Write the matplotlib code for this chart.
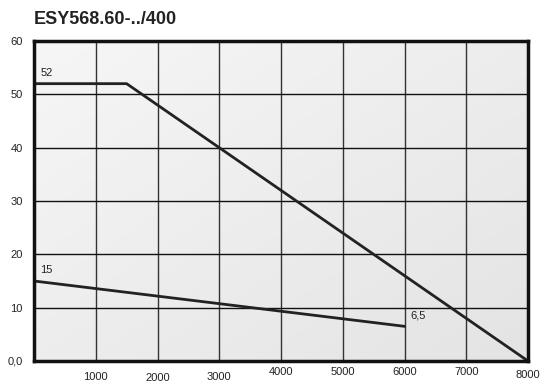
import matplotlib
matplotlib.use('Agg')
import matplotlib.pyplot as plt
import matplotlib.transforms as mtransforms
from matplotlib.colors import LinearSegmentedColormap
import numpy as np

plt.rcParams['font.family'] = ['Liberation Sans', 'DejaVu Sans']

# curves
upper_x = [0, 1500, 8000]
upper_y = [52, 52, 0]
lower_x = [0, 6000]
lower_y = [15, 6.5]

x_ticks = [1000, 2000, 3000, 4000, 5000, 6000, 7000, 8000]
x_labels = ['1000', '2000', '3000', '4000', '5000', '6000', '7000', '8000']
x_label_drop = [16, 17, 16, 11, 11, 11, 11, 14]  # pixels below axis
y_ticks = [0, 10, 20, 30, 40, 50, 60]
y_labels = ['0,0', '10', '20', '30', '40', '50', '60']

fig = plt.figure(figsize=(5.4, 3.82), dpi=100)
ax = fig.add_axes([34 / 540, 21 / 382, 494 / 540, 320 / 382])

# light gray gradient background
bg = LinearSegmentedColormap.from_list('bg', ['#f6f6f6', '#e4e4e4'])
gx, gy = np.meshgrid(np.linspace(0, 1, 64), np.linspace(0, 1, 64))
ax.imshow((gx + (1 - gy)) / 2, extent=[0, 8000, 0, 60], aspect='auto', cmap=bg,
          zorder=0, origin='lower')

ax.set_xlim(0, 8000)
ax.set_ylim(0, 60)

for x in range(1000, 8000, 1000):
    ax.axvline(x, color='#333333', lw=1.0, zorder=1)
for y in range(10, 60, 10):
    ax.axhline(y, color='#111111', lw=1.0, zorder=1)

ax.plot(upper_x, upper_y, color='#222222', lw=2.0, zorder=3)
ax.plot(lower_x, lower_y, color='#222222', lw=2.0, zorder=3)

ax.text(100, 54.0, '52', fontsize=8, color='#222222', va='center')
ax.text(100, 17.0, '15', fontsize=8, color='#222222', va='center')
ax.text(6090, 8.5, '6,5', fontsize=8, color='#222222', va='center')

ax.set_yticks(y_ticks)
ax.set_yticklabels(y_labels, fontsize=8, color='#222222')
ax.set_xticks([])
ax.tick_params(axis='y', length=0, pad=8)

trans = mtransforms.blended_transform_factory(ax.transData, ax.transAxes)
for xv, lab, drop in zip(x_ticks, x_labels, x_label_drop):
    off = mtransforms.ScaledTranslation(0, -drop / 100, fig.dpi_scale_trans)
    ax.text(xv, 0, lab, transform=trans + off, fontsize=8, color='#222222',
            ha='center', va='center', clip_on=False)

for s in ax.spines.values():
    s.set_linewidth(2.5)
    s.set_color('#111111')
    s.set_zorder(4)

fig.text(34 / 540, 1 - 20 / 382, 'ESY568.60-../400', fontsize=13,
         fontweight='bold', color='#222222', va='center', ha='left')

fig.savefig('out.png', dpi=100)
